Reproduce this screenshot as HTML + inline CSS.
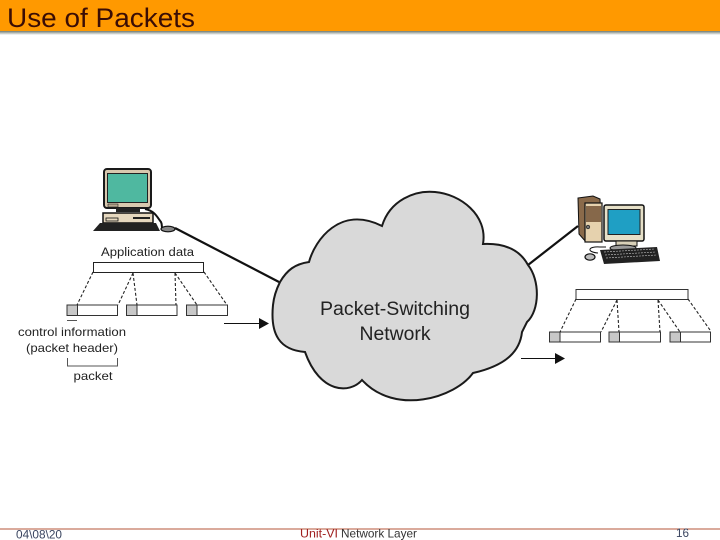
<!DOCTYPE html>
<html><head><meta charset="utf-8"><style>
html,body{margin:0;padding:0;background:#fff;width:720px;height:540px;overflow:hidden}
svg{display:block;font-family:"Liberation Sans",sans-serif}
</style></head><body>
<svg width="720" height="540" viewBox="0 0 720 540" xmlns="http://www.w3.org/2000/svg">
<defs><linearGradient id="s" x1="0" y1="0" x2="0" y2="1"><stop offset="0" stop-color="#6f7a70"/><stop offset="1" stop-color="#fff"/></linearGradient></defs>
<rect x="0" y="0" width="720" height="31" fill="#ff9900"/>
<rect x="0" y="31" width="720" height="4" fill="url(#s)"/>
<text x="7" y="27" font-size="27" fill="#3a0d05" textLength="188" lengthAdjust="spacingAndGlyphs">Use of Packets</text>

<!-- connectors -->
<line x1="175" y1="228" x2="279" y2="282" stroke="#111" stroke-width="2.200"/>
<line x1="528" y1="265" x2="578" y2="226" stroke="#111" stroke-width="2.200"/>

<!-- cloud -->
<path d="M280,282 C287,270 295,264 309,262 C315,240 340,205 382,226 C390,200 415,190 435,192 C460,194 488,215 483,244 C505,243 520,250 528,265 C540,280 540,310 527,322 L522,332 C520,350 508,365 473,373 C455,398 395,416 362,380 C350,394 320,394 305,352 C280,350 270,335 273,305 C274,295 277,288 280,282 Z" fill="#d9d9d9" stroke="#1a1a1a" stroke-width="2"/>
<text x="395" y="315" font-size="19" fill="#222" text-anchor="middle" textLength="150" lengthAdjust="spacingAndGlyphs">Packet-Switching</text>
<text x="395" y="340" font-size="19" fill="#222" text-anchor="middle" textLength="71" lengthAdjust="spacingAndGlyphs">Network</text>

<!-- left computer -->
<rect x="104" y="169" width="47" height="39" rx="3" fill="#d8c8ae" stroke="#1a1a1a" stroke-width="2"/>
<rect x="107.500" y="173.500" width="40" height="29" fill="#4fb8a0" stroke="#222" stroke-width="1"/>
<rect x="108" y="204" width="10" height="3" fill="#b8a890" stroke="#222" stroke-width=".6"/>
<rect x="116" y="208" width="24" height="4" fill="#222"/>
<rect x="103" y="213" width="50" height="10" fill="#e6d8bf" stroke="#111" stroke-width="1.500"/>
<rect x="106" y="218" width="12" height="3" fill="#e6d8bf" stroke="#111" stroke-width=".8"/>
<rect x="133" y="217" width="17" height="2" fill="#222"/>
<path d="M100,223 L156,223 L160,231 L93,231 Z" fill="#222"/>
<path d="M145,209 C155,211 157,217 161,222 C163,226 160,228 165,230" fill="none" stroke="#111" stroke-width="2"/>
<ellipse cx="168" cy="229" rx="7" ry="2.800" fill="#888" stroke="#111" stroke-width="1.200"/>

<!-- right computer -->
<path d="M578,198 L593,196 L600,199 L602,240 L586,242 L579,234 Z" fill="#8a6a4a" stroke="#111" stroke-width="1"/>
<rect x="585" y="203" width="17" height="39" fill="#e6d2ae" stroke="#111" stroke-width="1.200"/>
<rect x="586" y="206" width="15" height="16" fill="#86684a"/>
<circle cx="588" cy="227" r="1.800" fill="#777" stroke="#111" stroke-width=".6"/>
<rect x="604" y="205" width="40" height="36" rx="2" fill="#e6e0c8" stroke="#111" stroke-width="1.500"/>
<rect x="608" y="209.500" width="32" height="25" fill="#1f9fc4" stroke="#222" stroke-width="1"/>
<rect x="616" y="241" width="21" height="5" fill="#d8d0b8" stroke="#111" stroke-width="1"/>
<ellipse cx="623" cy="248" rx="13" ry="3" fill="#999" stroke="#111" stroke-width="1"/>
<path d="M600,250 L657,247 L660,261 L604,264 Z" fill="#222"/>
<path d="M604,252 L655,249 M605,255 L656,252 M606,258 L657,255" stroke="#aaa" stroke-width=".7" stroke-dasharray="2 1" fill="none"/>
<path d="M598,253 C586,252 588,246 600,247 L606,247" fill="none" stroke="#111" stroke-width="1"/>
<ellipse cx="590" cy="257" rx="5" ry="3.200" fill="#bbb" stroke="#111" stroke-width="1.200"/>

<!-- left packets -->
<text x="147.500" y="256" font-size="11.500" fill="#222" text-anchor="middle" textLength="93" lengthAdjust="spacingAndGlyphs">Application data</text>
<rect x="93.500" y="262.500" width="110" height="10" fill="#fff" stroke="#222" stroke-width="1"/>
<g fill="#fff" stroke="#333" stroke-width="1">
<rect x="67" y="305" width="50.500" height="10.500"/><rect x="126.500" y="305" width="50.500" height="10.500"/><rect x="186.500" y="305" width="41" height="10.500"/>
</g>
<g fill="#c8c8c8" stroke="#333" stroke-width="1">
<rect x="67" y="305" width="10.500" height="10.500"/><rect x="126.500" y="305" width="10.500" height="10.500"/><rect x="186.500" y="305" width="10.500" height="10.500"/>
</g>
<g fill="none" stroke="#222" stroke-width="1.100" stroke-dasharray="3 2">
<path d="M93,272 L77,305 M133,273 L118,305 M133,273 L137,305 M175,273 L176,305 M175,273 L197,305 M204,272 L227,305"/>
</g>
<path d="M67,320.500 H77" stroke="#555" stroke-width="1"/>
<path d="M67.500,358 V366 H117.500 V358" fill="none" stroke="#555" stroke-width="1"/>
<text x="72" y="336" font-size="12" fill="#222" text-anchor="middle" textLength="108" lengthAdjust="spacingAndGlyphs">control information</text>
<text x="72" y="352" font-size="12" fill="#222" text-anchor="middle" textLength="92" lengthAdjust="spacingAndGlyphs">(packet header)</text>
<text x="93" y="380" font-size="12" fill="#222" text-anchor="middle" textLength="39" lengthAdjust="spacingAndGlyphs">packet</text>
<line x1="224" y1="323.500" x2="259" y2="323.500" stroke="#111" stroke-width="1"/>
<path d="M259,318 L269,323.500 L259,329 Z" fill="#111"/>

<!-- right packets -->
<rect x="576" y="289.500" width="112" height="10" fill="#fff" stroke="#333" stroke-width="1"/>
<g fill="#fff" stroke="#333" stroke-width="1">
<rect x="549.500" y="332" width="51" height="10"/><rect x="609" y="332" width="51.500" height="10"/><rect x="670" y="332" width="40.500" height="10"/>
</g>
<g fill="#c8c8c8" stroke="#333" stroke-width="1">
<rect x="549.500" y="332" width="10.500" height="10"/><rect x="609" y="332" width="10.500" height="10"/><rect x="670" y="332" width="10.500" height="10"/>
</g>
<g fill="none" stroke="#222" stroke-width="1.100" stroke-dasharray="3 2">
<path d="M576,299 L560,332 M617,300 L601,332 M617,300 L619,332 M658,300 L660,332 M658,300 L680,332 M688,299 L710,330"/>
</g>
<line x1="521" y1="358.500" x2="556" y2="358.500" stroke="#111" stroke-width="1"/>
<path d="M555,353 L565,358.500 L555,364 Z" fill="#111"/>

<!-- footer -->
<rect x="0" y="528.500" width="720" height="1" fill="#b5553a"/>
<text x="16" y="538.500" font-size="12" fill="#3a4560" textLength="46" lengthAdjust="spacingAndGlyphs">04\08\20</text>
<text x="300" y="537.500" font-size="12" fill="#a02020" textLength="38" lengthAdjust="spacingAndGlyphs">Unit-VI</text>
<text x="341" y="537.500" font-size="12" fill="#333" textLength="76" lengthAdjust="spacingAndGlyphs">Network Layer</text>
<text x="676" y="537" font-size="12" fill="#3a4560" textLength="13" lengthAdjust="spacingAndGlyphs">16</text>
</svg>
</body></html>
